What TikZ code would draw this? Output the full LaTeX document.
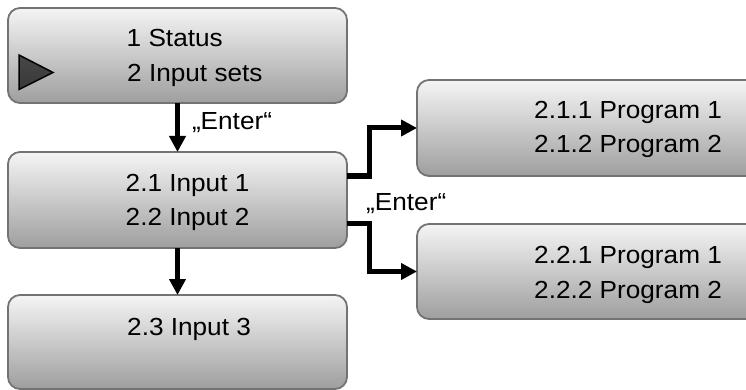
\documentclass[tikz,border=0pt]{standalone}
\usepackage{fontspec}
\setmainfont[FakeStretch=1.06]{Liberation Sans}
\usetikzlibrary{positioning,arrows.meta}
\tikzset{
  >={Triangle[width=16pt,length=16pt]},
  menu box/.style={draw=black!55, line width=1.8pt, rounded corners=12pt,
    top color=black!4, bottom color=black!38,
    minimum width=339pt, minimum height=95pt, inner sep=0pt, outer sep=0pt},
  menu text/.style={anchor=base west, inner sep=0pt,
    font=\fontsize{24.7}{30}\selectfont},
  flow/.style={->, line width=5pt},
}

\begin{document}
\begin{tikzpicture}[x=1pt, y=-1pt]
    \useasboundingbox (0,0) rectangle (746,390);
    % left column
    \node[menu box] (status) at (177.5,55.5) {};
    \node[menu box, minimum height=96pt] (inputs) [below=49pt of status] {};
    \node[menu box, minimum height=94pt] (more) [below=47pt of inputs] {};
    % right column
    \node[menu box, minimum width=363pt, minimum height=96pt] (prog1)
      [right=70pt of inputs, yshift=72pt] {};
    \node[menu box, minimum width=363pt] (prog2)
      [right=70pt of inputs, yshift=-71.5pt] {};
    % cursor
    \draw[black, line width=1.5pt, top color=black!72, middle color=black,
      bottom color=black!78]
      (19,55) -- (53,72.5) -- (19,89.5) -- cycle;
    % menu entries
    \node[menu text] (s1)   at (126.5,47)  {1 Status};
    \node[menu text] (s2)   at (127,82)    {2 Input sets};
    \node[menu text] (in1)  at (125.5,191) {2.1 Input 1};
    \node[menu text] (in2)  at (125.5,225) {2.2 Input 2};
    \node[menu text] (in3)  at (127,335)   {2.3 Input 3};
    \node[menu text] (p11)  at (534,119)   {2.1.1 Program 1};
    \node[menu text] (p12)  at (534,153)   {2.1.2 Program 2};
    \node[menu text] (p21)  at (534,263)   {2.2.1 Program 1};
    \node[menu text] (p22)  at (534,298)   {2.2.2 Program 2};
    \node[menu text] (enter) at (366,210)  {„Enter“};
    % connectors
    \draw[flow] (status) -- node[menu text, pos=0.55, xshift=12pt] {„Enter“} (inputs);
    \draw[flow] (inputs) -- (more);
    \draw[flow] ([shift={(0,-24)}]inputs.east) -- ++(22,0) |- (prog1.west);
    \draw[flow] ([shift={(0,23)}]inputs.east) -- ++(22,0) |- (prog2.west);
\end{tikzpicture}
\end{document}
